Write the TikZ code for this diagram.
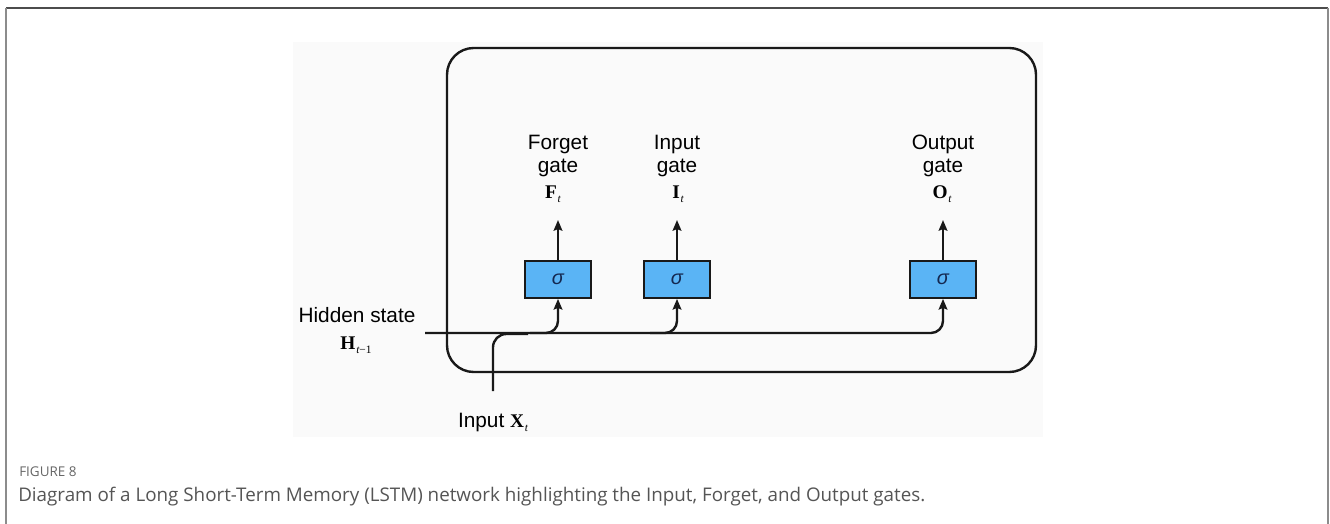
\documentclass[tikz,border=0pt]{standalone}
\usepackage{fontspec}
\setmainfont{Liberation Sans}
\newfontfamily\serifb{Liberation Serif}
\newfontfamily\capfont{Open Sans}
\usetikzlibrary{arrows.meta}
\definecolor{gateblue}{RGB}{90,180,245}
\definecolor{sigmacol}{RGB}{20,40,80}
\definecolor{capgray}{RGB}{85,85,85}
\newcommand{\vecsub}[2]{{\serifb\bfseries #1}\kern0.6pt\raisebox{-3.2pt}{\serifb\itshape\fontsize{8.5}{9}\selectfont #2}}
\begin{document}
\begin{tikzpicture}[x=0.75pt,y=-0.75pt,
  lbl/.style={font=\fontsize{15.6}{18}\selectfont, inner sep=0pt, anchor=base},
  vlbl/.style={font=\fontsize{14.5}{16}\selectfont, inner sep=0pt, anchor=base},
  gatebox/.style={draw=black!90, line width=1.3pt, fill=gateblue, minimum width=49.5pt, minimum height=27.75pt, inner sep=0pt, font=\fontsize{15}{15}\selectfont\itshape, text=sigmacol},
  wire/.style={line width=1.8pt, draw=black!90},
  arr/.style={wire, -{Stealth[length=8pt,width=6.5pt,inset=1.2pt]}},
  cellbox/.style={line width=1.8pt, draw=black!90, rounded corners=20pt},
  frameline/.style={line width=1.4pt}
]
\useasboundingbox (0,0) rectangle (1330,524);
% page frame
\fill[white] (0,0) rectangle (1330,524);
\draw[frameline, draw=black!70] (6,8) -- (1328,8);
\draw[frameline, draw=black!45] (6,8) -- (6,524);
\draw[frameline, draw=black!45] (1328,8) -- (1328,524);
% image background
\fill[black!2] (293,42) rectangle (1043,437);
% cell
\draw[cellbox] (447,48) rectangle (1036,372);
% gates
\node[gatebox] (fg) at (558,279.5) {σ};
\node[gatebox] (ig) at (677,279.5) {σ};
\node[gatebox] (og) at (943,279.5) {σ};
% gate labels
\node[lbl] (fl1) at (558,150) {Forget};
\node[lbl] (fl2) at (558,172) {gate};
\node[vlbl] (fl3) at (553,198) {\vecsub{F}{t}};
\node[lbl] (il1) at (677,150) {Input};
\node[lbl] (il2) at (677,172) {gate};
\node[vlbl] (il3) at (678,198) {\vecsub{I}{t}};
\node[lbl] (ol1) at (943,150) {Output};
\node[lbl] (ol2) at (943,172) {gate};
\node[vlbl] (ol3) at (942,198) {\vecsub{O}{t}};
% outputs of gates
\coordinate (fo) at (558,220);
\coordinate (io) at (677,220);
\coordinate (oo) at (943,220);
\draw[arr] (fg.north) -- (fo);
\draw[arr] (ig.north) -- (io);
\draw[arr] (og.north) -- (oo);
% hidden state and input
\node[lbl] (hs) at (357,322) {Hidden state};
\node[vlbl] (hv) at (356,349) {{\serifb\bfseries H}\kern0.6pt\raisebox{-3.2pt}{\serifb\fontsize{8.5}{9}\selectfont\itshape t\upshape −1}};
\node[lbl] (xl) at (493,427) {Input \fontsize{14.5}{16}\selectfont\vecsub{X}{t}};
\coordinate (hstart) at (425,333);
\coordinate (xstart) at (493,391);
\coordinate (xjoin) at (528,334);
\coordinate (bf) at (530,333);
\coordinate (bi) at (650,333);
\draw[arr, rounded corners=9pt] (hstart) -| (og.south);
\draw[arr, rounded corners=9pt] (bf) -| (fg.south);
\draw[arr, rounded corners=9pt] (bi) -| (ig.south);
\draw[wire, rounded corners=10pt] (xstart) |- (xjoin);
% caption
\node[anchor=base west, inner sep=0pt, font=\capfont\fontsize{10.1}{12}\selectfont, text=black!60] (fig) at (19,476) {FIGURE 8};
\node[anchor=base west, inner sep=0pt, font=\capfont\fontsize{14.1}{16}\selectfont, text=capgray] (cap) at (18,501) {Diagram of a Long Short-Term Memory (LSTM) network highlighting the Input, Forget, and Output gates.};
\end{tikzpicture}
\end{document}
